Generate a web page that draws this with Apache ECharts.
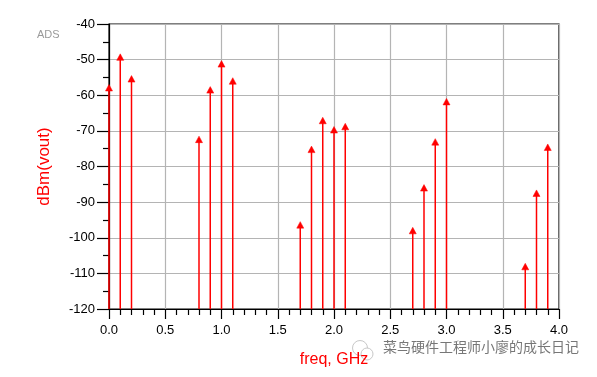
<!DOCTYPE html>
<html>
<head>
<meta charset="utf-8">
<script src="https://cdn.jsdelivr.net/npm/echarts@6/dist/echarts.min.js"></script>
<style>
html,body{margin:0;padding:0;background:#fff;}
#chart{width:597px;height:377px;}
</style>
</head>
<body>
<div id="chart"></div>
<script>
// Data
var freqs = [0.0, 0.1, 0.2, 0.8, 0.9, 1.0, 1.1, 1.7, 1.8, 1.9, 2.0, 2.1, 2.7, 2.8, 2.9, 3.0, 3.7, 3.8, 3.9];
var dbmVout = [-58.1, -49.5, -55.6, -72.6, -58.7, -51.4, -56.2, -96.6, -75.4, -67.3, -69.9, -69.0, -98.2, -86.2, -73.3, -62.0, -108.3, -87.7, -74.8];
var xTickLabels = ['0.0','0.5','1.0','1.5','2.0','2.5','3.0','3.5','4.0'];
var yTickLabels = ['-40','-50','-60','-70','-80','-90','-100','-110','-120'];
var xAxisName = 'freq, GHz';
var yAxisName = 'dBm(vout)';
var yMin = -120, yMax = -40;

var chart = echarts.init(document.getElementById('chart'), null, {renderer: 'canvas'});
var data = freqs.map(function (f, i) { return [f, dbmVout[i]]; });

var option = {
  animation: false,
  backgroundColor: '#fff',
  grid: {left: 109, top: 24, width: 450, height: 285, show: true, borderColor: '#000', borderWidth: 1.2, backgroundColor: 'transparent'},
  xAxis: {
    type: 'value', min: 0, max: 4, interval: 0.5,
    name: xAxisName, nameLocation: 'middle', nameGap: 43,
    nameTextStyle: {color: '#ff0000', fontSize: 16, fontFamily: 'Liberation Sans, Arial'},
    axisLine: {show: true, onZero: false, lineStyle: {color: '#000', width: 1.2}},
    axisTick: {show: true, length: 10, lineStyle: {color: '#000', width: 1.2}},
    minorTick: {show: true, splitNumber: 5, length: 6, lineStyle: {color: '#000', width: 1.2}},
    axisLabel: {margin: 15, color: '#000', fontSize: 13, fontFamily: 'Liberation Sans, Arial',
      formatter: function (v) { return xTickLabels[Math.round(v / 0.5)]; }},
    splitLine: {show: true, lineStyle: {color: '#b4b4b4', width: 1.2}}
  },
  yAxis: {
    type: 'value', min: yMin, max: yMax, interval: 10,
    name: yAxisName, nameLocation: 'middle', nameGap: 56, nameRotate: 90,
    nameTextStyle: {color: '#ff0000', fontSize: 17, fontFamily: 'Liberation Sans, Arial'},
    axisLine: {show: true, onZero: false, lineStyle: {color: '#000', width: 1.2}},
    axisTick: {show: true, length: 12, lineStyle: {color: '#000', width: 1.2}},
    minorTick: {show: true, splitNumber: 2, length: 6, lineStyle: {color: '#000', width: 1.2}},
    axisLabel: {margin: 14, color: '#000', fontSize: 13, fontFamily: 'Liberation Sans, Arial',
      formatter: function (v) { return yTickLabels[Math.round((yMax - v) / 10)]; }},
    splitLine: {show: true, lineStyle: {color: '#b4b4b4', width: 1.2}}
  },
  graphic: [
    {type: 'text', left: 37, top: 29, style: {text: 'ADS', fill: '#9a9a9a', font: '11px Liberation Sans, Arial'}},
    {type: 'group', left: 350, top: 338, children: [
      {type: 'circle', shape: {cx: 9, cy: 8, r: 7.5}, style: {fill: 'none', stroke: '#c8c8c8', lineWidth: 1}},
      {type: 'circle', shape: {cx: 16, cy: 14, r: 6}, style: {fill: '#fff', stroke: '#c8c8c8', lineWidth: 1}}
    ]},
    {type: 'text', left: 383, top: 340, style: {text: '菜鸟硬件工程师小廖的成长日记', fill: '#777', font: '14px "Noto Sans CJK SC"'}}
  ],
  series: [{
    type: 'custom',
    data: data,
    encode: {x: 0, y: 1},
    renderItem: function (params, api) {
      var x = api.value(0), v = api.value(1);
      var base = api.coord([x, yMin]);
      var top = api.coord([x, v]);
      return {
        type: 'group',
        children: [
          {type: 'line', shape: {x1: base[0], y1: base[1], x2: top[0], y2: top[1]},
            style: {stroke: '#ff0000', lineWidth: 1.5}},
          {type: 'polygon', shape: {points: [[top[0], top[1] - 4], [top[0] - 3.5, top[1] + 2.5], [top[0] + 3.5, top[1] + 2.5]]},
            style: {fill: '#ff0000', stroke: '#ff0000', lineWidth: 0.5}}
        ]
      };
    }
  }]
};
chart.setOption(option);
</script>
</body>
</html>
